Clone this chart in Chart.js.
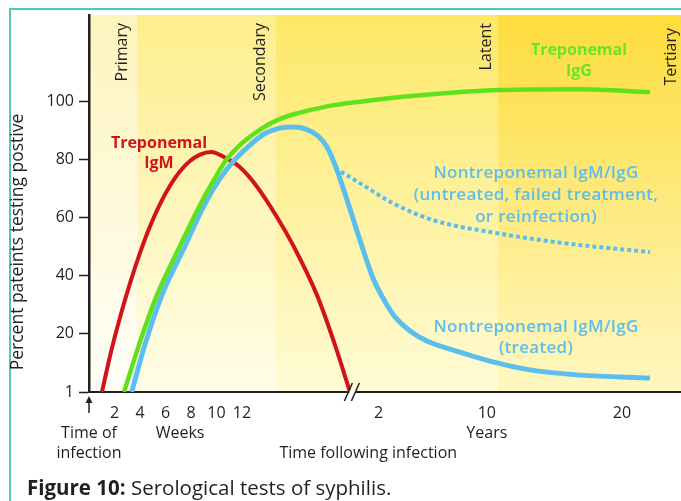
<!DOCTYPE html>
<html lang="en">
<head>
  <meta charset="utf-8"/>
  <title>Serological tests of syphilis</title>
  <script src="https://cdn.jsdelivr.net/npm/chart.js"></script>
  <style>
    html, body { margin: 0; padding: 0; background: #fff; overflow: hidden; }
    body { width: 681px; height: 501px; position: relative; font-family: 'Open Sans', sans-serif; }
    .frame {
      position: absolute; left: 9px; top: 8px; width: 800px; height: 600px;
      border-left: 2px solid #52c7b8; border-top: 2px solid #52c7b8;
    }
    #chart { position: absolute; left: 0; top: 0; }
    .caption { position: absolute; left: 27px; top: 474px; margin: 0; font-size: 20.5px; color: #231f20; line-height: 26px; }
  </style>
</head>
<body>
  <div class="frame"></div>
  <canvas id="chart" width="681" height="501"></canvas>
  <p class="caption"><b>Figure 10:</b> Serological tests of syphilis.</p>

<script>
  // y axis ticks, the bottom one is printed as "1"
  const yTicks = [0, 20, 40, 60, 80, 100];
  const yTickLabels = ['1', '20', '40', '60', '80', '100'];

  // x axis is broken: weeks up to the break, then years
  const weekTicks = [2, 4, 6, 8, 10, 12];
  const yearTicks = [2, 10, 20];
  const BREAK_AT = 20.5;
  const yearPos = y => 20.6 + 1.06 * y;

  // stages of the infection (start of each shaded band, in axis units)
  const stages = ['Primary', 'Secondary', 'Latent', 'Tertiary'];
  const stageStarts = [0, 3.76, 14.67, 32.08];
  const stageLabelAt = [3.0, 13.8, 31.5, 46.0];

  // series: position on the time axis / percent testing positive
  const igmPos = [1.02, 1.65, 2.43, 3.22, 4.0, 4.78, 5.57, 6.35, 7.14, 7.92, 8.71, 9.57, 10.75, 11.84, 13.02, 14.75, 16.0, 17.88, 19.29, 20.47];
  const igmPct = [0, 12.4, 25.6, 37.4, 47.8, 56.9, 64.6, 70.9, 75.9, 79.4, 81.6, 82.5, 80.4, 77.3, 71.5, 60.1, 50.5, 33.3, 16.2, 0];

  const iggPos = [2.75, 3.92, 5.33, 6.98, 8.71, 9.80, 10.75, 11.84, 13.02, 14.04, 15.0, 16.0, 18.67, 21.25, 25.96, 32.08, 38.51, 44.0];
  const iggPct = [0, 16.2, 33.3, 48.8, 64.3, 72.9, 79.7, 84.9, 89.0, 91.9, 93.9, 95.4, 98.2, 99.8, 102.0, 103.8, 104.1, 103.1];

  const ntTreatedPos = [3.35, 4.38, 5.72, 7.38, 9.05, 10.2, 11.4, 12.63, 13.73, 14.98, 16.0, 17.02, 17.96, 18.67, 19.45, 20.24, 21.25, 22.27, 23.37, 24.0, 25.18, 26.51, 29.33, 32.0, 34.59, 38.51, 44.0];
  const ntTreatedPct = [0, 16.2, 33.3, 48.8, 64.3, 72.9, 79.7, 84.9, 88.7, 90.7, 91.1, 90.4, 88.0, 84.2, 76.3, 66.0, 52.2, 39.2, 29.9, 25.8, 21.0, 17.5, 13.4, 10.0, 7.6, 5.8, 4.8];

  const ntUntreatedPos = [19.29, 21.25, 23.84, 26.98, 32.0, 37.18, 44.0];
  const ntUntreatedPct = [77.0, 71.8, 64.9, 59.1, 54.6, 51.2, 48.1];

  const RED = '#d0141c', GREEN = '#5fe21b', BLUE = '#5bbfee', INK = '#231f20';
  const bandTop = ['#fdf4bd', '#fdee8c', '#fde866', '#fddc3c'];
  const bandBottom = ['#fffef8', '#fffde9', '#fffbd6', '#fff7c2'];

  const toPoints = (xs, ys) => xs.map((x, i) => ({ x: x, y: ys[i] }));
  const xTickValues = weekTicks.concat(yearTicks.map(yearPos));
  const xTickLabels = weekTicks.concat(yearTicks).map(String);

  // text labels placed in data units
  const seriesLabels = [
    { lines: ['Treponemal', 'IgM'], x: 5.49, y: [85.6, 78.7], color: RED, font: 'bold 16px "Open Sans"', spacing: '0px' },
    { lines: ['Treponemal', 'IgG'], x: 38.43, y: [117.5, 110.3], color: '#6ae32a', font: 'bold 16px "Open Sans"', spacing: '0px' },
    { lines: ['Nontreponemal IgM/IgG', '(untreated, failed treatment,', 'or reinfection)'], x: 35.06, y: [75.3, 67.7, 60.1], color: BLUE, font: '600 17px "Open Sans"', spacing: '0.3px' },
    { lines: ['Nontreponemal IgM/IgG', '(treated)'], x: 35.06, y: [22.3, 15.1], color: BLUE, font: '600 17px "Open Sans"', spacing: '0.3px' }
  ];

  Chart.defaults.font.family = "'Open Sans', sans-serif";

  const backdrop = {
    id: 'backdrop',
    beforeDraw(chart) {
      const { ctx, chartArea: a, scales: { x } } = chart;
      ctx.save();
      stageStarts.forEach((s, i) => {
        const x0 = x.getPixelForValue(s);
        const x1 = i + 1 < stageStarts.length ? x.getPixelForValue(stageStarts[i + 1]) : a.right;
        const g = ctx.createLinearGradient(0, a.top, 0, a.bottom);
        g.addColorStop(0, bandTop[i]);
        g.addColorStop(1, bandBottom[i]);
        ctx.fillStyle = g;
        ctx.fillRect(x0, a.top, x1 - x0, a.bottom - a.top);
      });
      ctx.restore();
    },
    afterDraw(chart) {
      const { ctx, chartArea: a, scales: { x, y } } = chart;
      ctx.save();

      // stage names, rotated
      ctx.font = '16px "Open Sans"';
      ctx.fillStyle = INK;
      ctx.textAlign = 'right';
      ctx.textBaseline = 'alphabetic';
      stages.forEach((s, i) => {
        ctx.save();
        ctx.translate(x.getPixelForValue(stageLabelAt[i]), i === 3 ? 28 : 23);
        ctx.rotate(-Math.PI / 2);
        ctx.fillText(s, 0, 0);
        ctx.restore();
      });

      // series names
      ctx.textAlign = 'center';
      ctx.textBaseline = 'middle';
      seriesLabels.forEach(l => {
        ctx.font = l.font;
        ctx.letterSpacing = l.spacing;
        ctx.fillStyle = l.color;
        l.lines.forEach((t, i) => ctx.fillText(t, x.getPixelForValue(l.x), y.getPixelForValue(l.y[i])));
      });
      ctx.letterSpacing = '0px';

      // axis break
      const bx = x.getPixelForValue(BREAK_AT), by = a.bottom;
      ctx.lineCap = 'butt';
      ctx.strokeStyle = '#fff';
      ctx.lineWidth = 5;
      ctx.beginPath();
      ctx.moveTo(bx - 1, by); ctx.lineTo(bx + 5, by);
      ctx.stroke();
      ctx.strokeStyle = INK;
      ctx.lineWidth = 1.5;
      ctx.beginPath();
      ctx.moveTo(bx - 6, by + 9); ctx.lineTo(bx + 2, by - 9);
      ctx.moveTo(bx + 1, by + 9); ctx.lineTo(bx + 9, by - 9);
      ctx.stroke();

      // infection arrow
      const ax = x.getPixelForValue(0);
      ctx.fillStyle = INK;
      ctx.lineWidth = 1.5;
      ctx.beginPath();
      ctx.moveTo(ax, by + 21); ctx.lineTo(ax, by + 9);
      ctx.stroke();
      ctx.beginPath();
      ctx.moveTo(ax, by + 4); ctx.lineTo(ax - 3.5, by + 11); ctx.lineTo(ax + 3.5, by + 11);
      ctx.closePath();
      ctx.fill();

      // x axis captions
      ctx.font = '16px "Open Sans"';
      ctx.textAlign = 'center';
      ctx.fillText('Time of', ax, by + 41);
      ctx.fillText('infection', ax, by + 61);
      ctx.fillText('Weeks', x.getPixelForValue(7.14), by + 41);
      ctx.fillText('Years', x.getPixelForValue(yearPos(10)), by + 41);
      ctx.fillText('Time following infection', x.getPixelForValue(21.9), by + 61);

      // y axis title
      ctx.font = '17.5px "Open Sans"';
      ctx.translate(18, 242);
      ctx.rotate(-Math.PI / 2);
      ctx.fillText('Percent pateints testing postive', 0, 0);
      ctx.restore();
    }
  };

  new Chart(document.getElementById('chart'), {
    type: 'line',
    data: {
      datasets: [
        { label: 'Treponemal IgG', data: toPoints(iggPos, iggPct), borderColor: GREEN, borderWidth: 4.5, order: 1 },
        { label: 'Nontreponemal IgM/IgG (treated)', data: toPoints(ntTreatedPos, ntTreatedPct), borderColor: BLUE, borderWidth: 5, order: 2 },
        { label: 'Nontreponemal IgM/IgG (untreated)', data: toPoints(ntUntreatedPos, ntUntreatedPct), borderColor: BLUE, borderWidth: 4, borderDash: [4, 3], order: 3 },
        { label: 'Treponemal IgM', data: toPoints(igmPos, igmPct), borderColor: RED, borderWidth: 4, order: 4 }
      ]
    },
    options: {
      responsive: false,
      animation: false,
      layout: { padding: { top: 15, left: 0, right: 0, bottom: 0 } },
      elements: { point: { radius: 0 }, line: { cubicInterpolationMode: 'monotone', fill: false } },
      plugins: { legend: { display: false }, tooltip: { enabled: false } },
      scales: {
        x: {
          type: 'linear',
          min: 0,
          max: 46.43,
          afterFit: s => { s.height = 109; },
          afterBuildTicks: s => { s.ticks = xTickValues.map(v => ({ value: v })); },
          grid: { display: false, drawTicks: false },
          border: { color: INK, width: 2 },
          ticks: {
            autoSkip: false, maxRotation: 0, padding: 12,
            color: INK, font: { size: 16 },
            callback: (v, i) => xTickLabels[i]
          }
        },
        y: {
          min: 0,
          max: 129.6,
          afterFit: s => { s.width = 89; },
          afterBuildTicks: s => { s.ticks = yTicks.map(v => ({ value: v })); },
          grid: { drawOnChartArea: false, drawTicks: true, tickLength: 10, color: INK, tickWidth: 1.5 },
          border: { color: INK, width: 2.5 },
          ticks: {
            padding: 5, color: INK, font: { size: 16 },
            callback: (v, i) => yTickLabels[i]
          }
        }
      }
    },
    plugins: [backdrop]
  });
</script>
</body>
</html>
